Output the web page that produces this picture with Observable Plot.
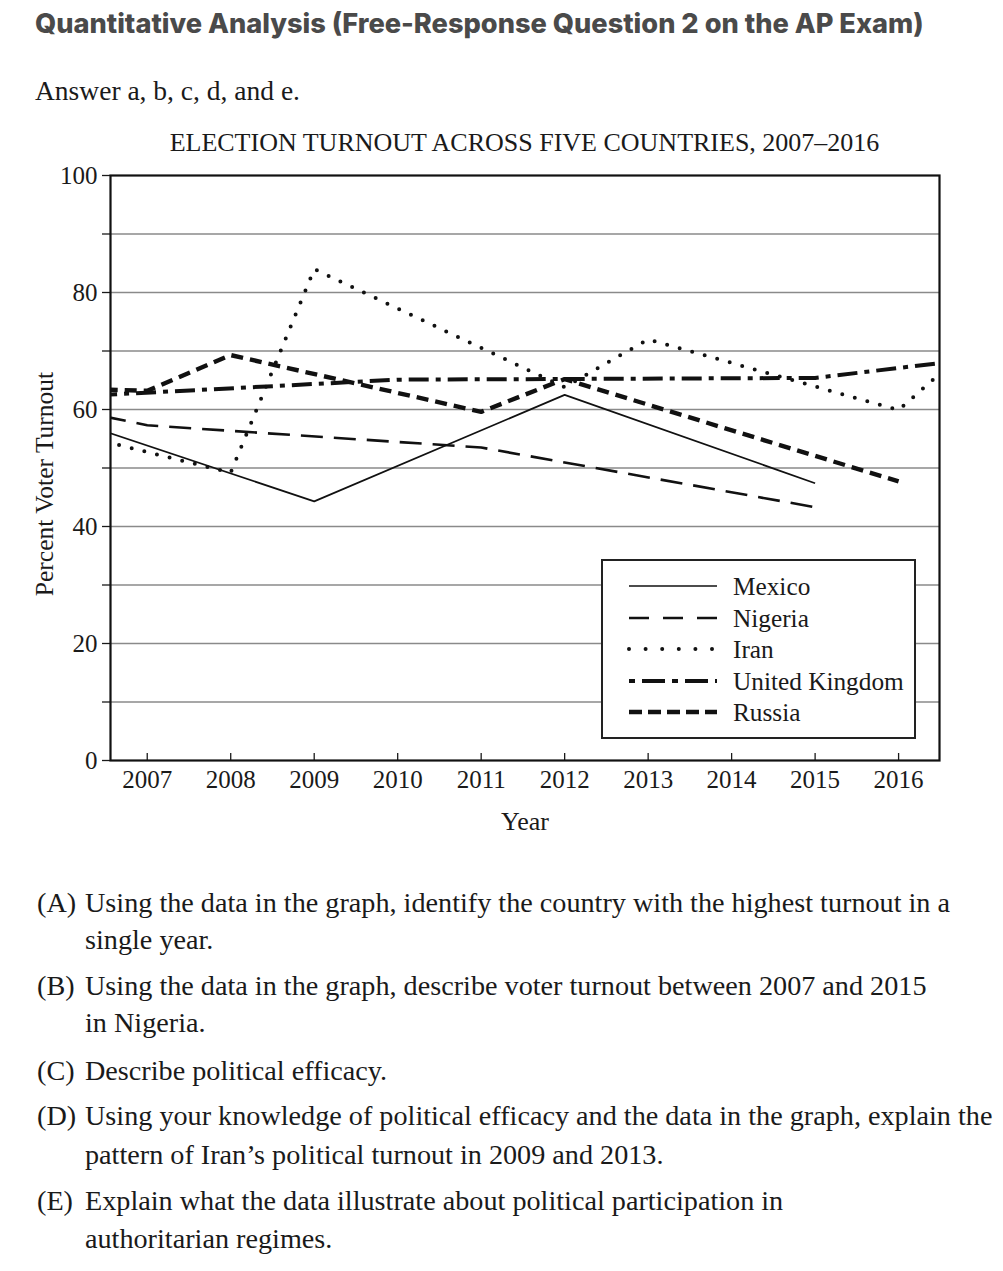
<!DOCTYPE html>
<html>
<head>
<meta charset="utf-8">
<script src="https://cdn.jsdelivr.net/npm/d3@7"></script>
<script src="https://cdn.jsdelivr.net/npm/@observablehq/plot@0.6"></script>
<style>
  html, body { margin: 0; padding: 0; background: #fff; }
  #page { position: relative; width: 1003px; height: 1271px; overflow: hidden; }
  .abs { position: absolute; white-space: nowrap; }
  .serif { font-family: "Liberation Serif", "Times New Roman", serif; color: #1a1a1a; }
  #heading { left: 35px; top: 7px; font-family: Inter, "Open Sans", sans-serif; font-weight: 800; font-size: 27.2px; color: #4a4a4a; line-height: 34px; }
  #answer { left: 35px; top: 75px; font-size: 27.5px; line-height: 32px; }
  #title { left: 0; width: 1049px; text-align: center; top: 128px; font-size: 26px; line-height: 30px; }
  #chart { position: absolute; left: 0; top: 160px; }
  #ylab { left: 45px; top: 484px; font-size: 25.5px; line-height: 26px; transform: translate(-50%, -50%) rotate(-90deg); }
  #xlab { left: 525px; top: 822px; font-size: 26px; line-height: 28px; transform: translate(-50%, -50%); }
  #legend { left: 601px; top: 559px; width: 311px; height: 176px; border: 2px solid #222; background: #fff; }
  .lrow { position: absolute; left: 0; height: 30px; width: 311px; }
  .lrow svg { position: absolute; left: 24px; top: 10px; }
  .lrow span { position: absolute; left: 130px; top: 0; font-size: 25.3px; line-height: 30px; }
  .q { font-size: 28.2px; line-height: 32px; }
</style>
</head>
<body>
<div id="page">
  <div id="heading" class="abs">Quantitative Analysis (Free-Response Question 2 on the AP Exam)</div>
  <div id="answer" class="abs serif">Answer a, b, c, d, and e.</div>
  <div id="title" class="abs serif">ELECTION TURNOUT ACROSS FIVE COUNTRIES, 2007–2016</div>
  <div id="chart"></div>
  <div id="ylab" class="abs serif">Percent Voter Turnout</div>
  <div id="xlab" class="abs serif">Year</div>
  <div id="legend" class="abs serif"></div>
  <div id="questions"></div>
</div>
<script>
// ---------- data ----------
const countries = ["Mexico", "Nigeria", "Iran", "United Kingdom", "Russia"];

const mexicoYears   = [2006, 2009, 2012, 2015];
const mexicoTurnout = [58.6, 44.3, 62.5, 47.4];

const nigeriaYears   = [2003, 2007, 2011, 2015];
const nigeriaTurnout = [69.1, 57.3, 53.5, 43.3];

const iranYears   = [2005, 2008, 2009, 2012, 2013, 2016, 2017];
const iranTurnout = [59.8, 49.2, 84.0, 63.8, 72.0, 59.9, 72.5];

const ukYears   = [2005, 2010, 2015, 2017];
const ukTurnout = [61.4, 65.1, 65.4, 68.8];

const russiaYears   = [2004, 2007, 2008, 2011, 2012, 2016];
const russiaTurnout = [64.4, 63.2, 69.3, 59.6, 65.2, 47.7];

const xTickYears = [2007, 2008, 2009, 2010, 2011, 2012, 2013, 2014, 2015, 2016];
const yTickValues = [0, 10, 20, 30, 40, 50, 60, 70, 80, 90, 100];
const yLabelValues = [0, 20, 40, 60, 80, 100];
const xDomain = [2006.56, 2016.49];

const questionLetters = ["(A)", "(B)", "(C)", "(D)", "(E)"];
const questionLines = [
  ["Using the data in the graph, identify the country with the highest turnout in a", "single year."],
  ["Using the data in the graph, describe voter turnout between 2007 and 2015", "in Nigeria."],
  ["Describe political efficacy."],
  ["Using your knowledge of political efficacy and the data in the graph, explain the", "pattern of Iran’s political turnout in 2009 and 2013."],
  ["Explain what the data illustrate about political participation in", "authoritarian regimes."]
];

// ---------- styles (separate from data) ----------
const seriesStyle = {
  "Mexico":         {strokeWidth: 1.7, dash: null,        legendDash: null,         cap: "butt"},
  "Nigeria":        {strokeWidth: 2.6, dash: "22 11",     legendDash: "20 14",      cap: "butt"},
  "Iran":           {strokeWidth: 4,   dash: "0 13",      legendDash: "0 16.6",     cap: "round"},
  "United Kingdom": {strokeWidth: 4,   dash: "20 7 5 7",  legendDash: "6 7 23 7",   cap: "butt"},
  "Russia":         {strokeWidth: 4.4, dash: "12 7",      legendDash: "13 6",       cap: "butt"}
};

const seriesData = {
  "Mexico": [mexicoYears, mexicoTurnout],
  "Nigeria": [nigeriaYears, nigeriaTurnout],
  "Iran": [iranYears, iranTurnout],
  "United Kingdom": [ukYears, ukTurnout],
  "Russia": [russiaYears, russiaTurnout]
};

const rows = countries.flatMap(c => seriesData[c][0].map((yr, i) => ({country: c, year: yr, turnout: seriesData[c][1][i]})));

const lineMarks = countries.map(c => Plot.line(rows.filter(r => r.country === c), {
  x: "year", y: "turnout",
  stroke: "#111",
  strokeWidth: seriesStyle[c].strokeWidth,
  strokeDasharray: seriesStyle[c].dash,
  strokeLinecap: seriesStyle[c].cap,
  strokeLinejoin: "round",
  clip: true
}));

const chart = Plot.plot({
  width: 1003,
  height: 680,
  marginLeft: 110,
  marginRight: 64,
  marginTop: 15,
  marginBottom: 80,
  style: {fontFamily: "'Liberation Serif', 'Times New Roman', serif", fontSize: "25px", color: "#1a1a1a", background: "transparent"},
  x: {domain: xDomain, label: null},
  y: {domain: [0, 100], label: null},
  marks: [
    Plot.ruleY(yTickValues.filter(v => v > 0 && v < 100), {stroke: "#8a8a8a", strokeWidth: 1.4}),
    Plot.axisY(yTickValues, {tickSize: 8, tickPadding: 5, tickFormat: d => yLabelValues.includes(d) ? String(d) : "", strokeWidth: 1.3, label: null}),
    Plot.axisX(xTickYears, {tickSize: -7, tickFormat: () => "", strokeWidth: 1.3, label: null}),
    Plot.axisX(xTickYears, {tickSize: 0, tickPadding: 10, tickFormat: d => String(d), label: null}),
    ...lineMarks,
    Plot.frame({stroke: "#111", strokeWidth: 2.2})
  ]
});
document.getElementById("chart").appendChild(chart);

// ---------- legend ----------
const legend = d3.select("#legend");
countries.forEach((c, i) => {
  const row = legend.append("div").attr("class", "lrow").style("top", (10 + i * 31.5) + "px");
  const svg = row.append("svg").attr("width", 92).attr("height", 10);
  svg.append("line")
    .attr("x1", 2).attr("x2", 90).attr("y1", 5).attr("y2", 5)
    .attr("stroke", "#111")
    .attr("stroke-width", seriesStyle[c].strokeWidth)
    .attr("stroke-dasharray", seriesStyle[c].legendDash)
    .attr("stroke-linecap", seriesStyle[c].cap);
  row.append("span").text(c);
});

// ---------- questions ----------
const qTops = [[887, 924], [970, 1007], [1055], [1100, 1139], [1185, 1223]];
const qDiv = d3.select("#questions");
questionLetters.forEach((letter, i) => {
  qDiv.append("div").attr("class", "abs serif q").style("left", "37px").style("top", qTops[i][0] + "px").text(letter);
  questionLines[i].forEach((line, j) => {
    qDiv.append("div").attr("class", "abs serif q").style("left", "85px").style("top", qTops[i][j] + "px").text(line);
  });
});
</script>
</body>
</html>
